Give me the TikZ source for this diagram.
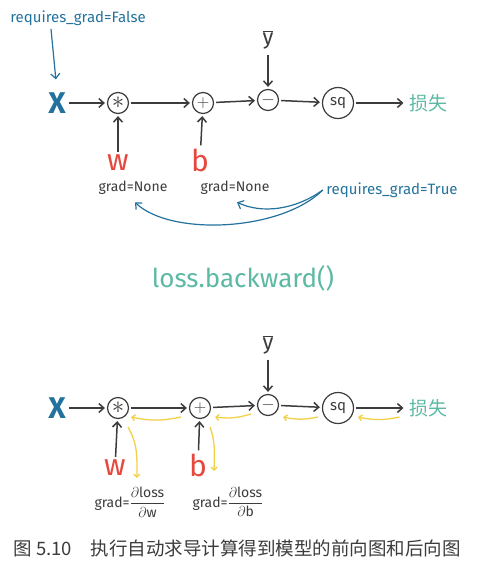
\documentclass[tikz,border=0pt]{standalone}
\usepackage{fontspec}
\setmainfont{Fira Sans}
\newfontfamily\cjk{Noto Sans CJK SC}
\usetikzlibrary{positioning}
\usetikzlibrary{arrows.meta}

\definecolor{inkblue}{HTML}{23729E}
\definecolor{inkred}{HTML}{E5483D}
\definecolor{inkteal}{HTML}{5DB9A3}
\definecolor{inkgold}{HTML}{F2D047}
\definecolor{inkgray}{HTML}{3C3C3C}

\begin{document}
\begin{tikzpicture}[x=1pt,y=-1pt,
	op/.style={circle,draw=inkgray,line width=1.2pt,inner sep=0pt,
		minimum size=21pt,text=inkgray,font=\fontsize{18}{18}\selectfont},
	mulop/.style={op,font=\fontsize{28}{28}\selectfont},
	var/.style={text=inkblue,font=\fontsize{30}{30}\selectfont\bfseries,inner sep=1pt},
	param/.style={text=inkred,font=\fontsize{30}{30}\selectfont,inner sep=1pt},
	lossword/.style={text=inkteal,font=\fontsize{19}{19}\selectfont\cjk},
	label/.style={text=inkgray,font=\fontsize{14}{14}\selectfont},
	bluenote/.style={text=inkblue,font=\fontsize{15}{15}\selectfont},
	fwd/.style={-{Straight Barb[length=5pt,width=9pt]},line width=1.5pt,
		draw=inkgray,shorten <=2pt,shorten >=2pt},
	bwd/.style={-{Straight Barb[length=3pt,width=6pt]},line width=1.3pt,
		draw=inkgold},
	note/.style={-{Straight Barb[length=5pt,width=9pt]},line width=1.2pt,
		draw=inkblue}
	]

	\useasboundingbox (0,0) rectangle (477,565);

	% forward graph
	\node[bluenote] (reqfalse) at (78,18) {requires\_grad=False};
	\node[var] (x1) at (57,103) {X};
	\node[mulop] (mul1) at (118,103) {$\ast$};
	\node[op] (add1) at (203,103) {$+$};
	\node[op] (sub1) at (268,100) {$-$};
	\node[op,minimum size=31pt,font=\fontsize{15}{15}\selectfont] (sq1) at (338,103) {sq};
	\node[lossword] (loss1) at (428,103) {损失};
	\node[label,font=\fontsize{22}{22}\selectfont] (ybar1) at (268,40) {$\overline{\mbox{y}}$};
	\node[param] (w1) at (118,163) {w};
	\node[param] (b1) at (200,160) {b};
	\node[label] (gw1) at (133,188) {grad=None};
	\node[label] (gb1) at (235,188) {grad=None};
	\node[bluenote] (reqtrue) at (392,190) {requires\_grad=True};

	\draw[note,shorten >=12pt] ([xshift=-27pt]reqfalse.south) -- (x1.north);
	\draw[fwd] (x1) -- (mul1);
	\draw[fwd] (mul1) -- (add1);
	\draw[fwd] (add1) -- (sub1);
	\draw[fwd] (sub1) -- (sq1);
	\draw[fwd] (sq1) -- (loss1);
	\draw[fwd] (ybar1) -- (sub1);
	\draw[fwd] (w1) -- (mul1);
	\draw[fwd] (b1) -- (add1);
	\draw[note] (reqtrue.west) .. controls (295,210) and (262,214) .. ([xshift=2pt,yshift=-4pt]gb1.south);
	\draw[note] (reqtrue.west) .. controls (280,232) and (170,236) .. ([xshift=2pt,yshift=-4pt]gw1.south);

	\node[text=inkteal,font=\fontsize{26}{26}\selectfont] (backward) at (243,278) {loss.backward()};

	% backward graph
	\node[var] (x2) at (57,408) {X};
	\node[mulop] (mul2) at (118,408) {$\ast$};
	\node[op] (add2) at (200,408) {$+$};
	\node[op] (sub2) at (268,405) {$-$};
	\node[op,minimum size=31pt,font=\fontsize{15}{15}\selectfont] (sq2) at (338,408) {sq};
	\node[lossword] (loss2) at (428,408) {损失};
	\node[label,font=\fontsize{22}{22}\selectfont] (ybar2) at (268,345) {$\overline{\mbox{y}}$};
	\node[param] (w2) at (115,468) {w};
	\node[param] (b2) at (198,465) {b};
	\node[label] (gw2) at (130,502) {grad=$\displaystyle\frac{\partial\mbox{loss}}{\partial\mbox{w}}$};
	\node[label] (gb2) at (228,502) {grad=$\displaystyle\frac{\partial\mbox{loss}}{\partial\mbox{b}}$};

	\draw[fwd] (x2) -- (mul2);
	\draw[fwd] (mul2) -- (add2);
	\draw[fwd] (add2) -- (sub2);
	\draw[fwd] (sub2) -- (sq2);
	\draw[fwd] (sq2) -- (loss2);
	\draw[fwd] (ybar2) -- (sub2);
	\draw[fwd] (w2) -- (mul2);
	\draw[fwd] (b2) -- (add2);

	\draw[bwd] ([xshift=-8pt,yshift=-9pt]add2.west) to[bend left=12] ([xshift=2pt,yshift=-9pt]mul2.east);
	\draw[bwd] ([xshift=-6pt,yshift=-9pt]sub2.west) to[bend left=12] ([xshift=4pt,yshift=-9pt]add2.east);
	\draw[bwd] ([xshift=-4pt,yshift=-9pt]sq2.west) to[bend left=12] ([xshift=4pt,yshift=-12pt]sub2.east);
	\draw[bwd] ([xshift=-6pt,yshift=-9pt]loss2.west) to[bend left=12] ([xshift=4pt,yshift=-9pt]sq2.east);
	\draw[bwd] ([xshift=10pt,yshift=-8pt]mul2.south) to[out=-60,in=90] ([xshift=10pt,yshift=-10pt]w2.east);
	\draw[bwd] ([xshift=10pt,yshift=-8pt]add2.south) to[out=-70,in=90] ([xshift=6pt,yshift=-6pt]b2.east);

	\node[text=inkgray,font=\fontsize{18.5}{18.5}\selectfont\cjk] (caption) at (237,548) {图 5.10\quad 执行自动求导计算得到模型的前向图和后向图};

\end{tikzpicture}
\end{document}
